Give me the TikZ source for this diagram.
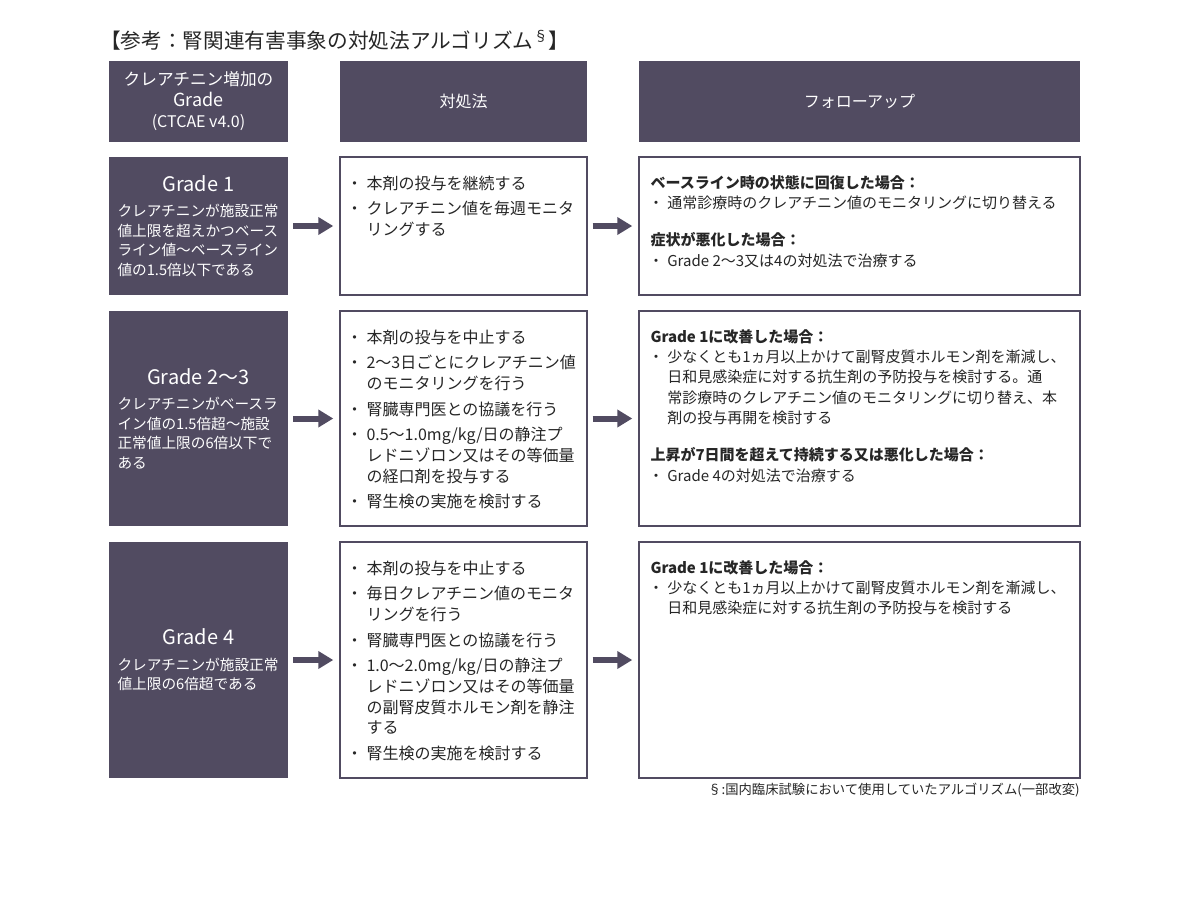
\documentclass[tikz,border=0pt]{standalone}
\usepackage{fontspec}
\setmainfont{Noto Sans CJK JP}
\usetikzlibrary{arrows.meta}

\definecolor{plum}{HTML}{514B61}
\newlength\pu
\setlength\pu{0.75pt}
\newcommand\bul{\makebox[1.125em][l]{\hspace{-0.125em}・}}
\newcommand\ind{\hspace*{1.125em}}

\tikzset{
  gradebox/.style={fill=plum, minimum width=179\pu, inner sep=0},
  stepbox/.style={draw=plum, line width=1.1pt, fill=white, inner sep=0},
  flow/.style={draw=plum, line width=4.5pt, -{Triangle[length=11.25pt,width=12.75pt]}, shorten <=3.75pt, shorten >=4.5pt},
  gradetext/.style={text width=162\pu, align=left, inner sep=0, text=white, font=\fontsize{11}{14.6}\selectfont},
  boxtext/.style={anchor=north west, inner sep=0, align=left, text=black!85}
}

\begin{document}
\begin{tikzpicture}[x=1\pu, y=-1\pu]
\fill[white] (0,0) rectangle (1200,922);
\useasboundingbox (0,0) rectangle (1200,922);

% title
\node[anchor=west, inner sep=0, font=\fontsize{15.5}{18}\selectfont, text=black!85] (title) at (100,40)
  {【参考：腎関連有害事象の対処法アルゴリズム\textsuperscript{§}】};

% header row
\node[gradebox, minimum height=81\pu, text=white, align=center, font=\fontsize{12.5}{15.75}\selectfont] (h1) at (198.5,101.5)
  {クレアチニン増加の\\{\fontsize{13.5}{15.75}\selectfont Grade}\\{\fontsize{12}{15.75}\selectfont(CTCAE v4.0)}};
\node[gradebox, minimum width=247\pu, minimum height=81\pu, text=white, font=\fontsize{12}{15}\selectfont] (h2) at (463.5,101.5) {対処法};
\node[gradebox, minimum width=441\pu, minimum height=81\pu, text=white, font=\fontsize{12}{15}\selectfont] (h3) at (859.5,101.5) {フォローアップ};

% rows
\foreach \r/\t/\b in {1/157/295, 2/311/526, 3/542/778}
{
  \pgfmathsetmacro{\rh}{(\b-\t)*0.75}
  \pgfmathsetmacro{\rc}{(\t+\b)/2}
  \node[gradebox, minimum height=\rh pt] (g\r) at (198.5,\rc) {};
  \node[stepbox, minimum width=247\pu, minimum height=\rh pt] (m\r) at (463.5,\rc) {};
  \node[stepbox, minimum width=441\pu, minimum height=\rh pt] (f\r) at (859.5,\rc) {};
  \draw[flow] (g\r) -- (m\r);
  \draw[flow] (m\r) -- (f\r);
}

% grade texts
\node[gradetext] (gt1) at (g1) {\makebox[\linewidth][c]{\fontsize{15}{18}\selectfont Grade 1}\\[6\pu]
  クレアチニンが施設正常\\値上限を超えかつベース\\ライン値〜ベースライン\\値の1.5倍以下である};
\node[gradetext] (gt2) at (g2) {\makebox[\linewidth][c]{\fontsize{15}{18}\selectfont Grade 2〜3}\\[6\pu]
  クレアチニンがベースラ\\イン値の1.5倍超〜施設\\正常値上限の6倍以下で\\ある};
\node[gradetext] (gt3) at (g3) {\makebox[\linewidth][c]{\fontsize{15}{18}\selectfont Grade 4}\\[6\pu]
  クレアチニンが施設正常\\値上限の6倍超である};

% actions
\node[boxtext, font=\fontsize{12}{15.5}\selectfont] (mt1) at ([shift={(9,19)}]m1.north west)
  {\bul 本剤の投与を継続する\\[5\pu]
   \bul クレアチニン値を毎週モニタ\\\ind リングする};
\node[boxtext, font=\fontsize{12}{15.5}\selectfont] (mt2) at ([shift={(9,19)}]m2.north west)
  {\bul 本剤の投与を中止する\\[5\pu]
   \bul 2〜3日ごとにクレアチニン値\\\ind のモニタリングを行う\\[5\pu]
   \bul 腎臓専門医との協議を行う\\[5\pu]
   \bul 0.5〜1.0mg/kg/日の静注プ\\\ind レドニゾロン又はその等価量\\\ind の経口剤を投与する\\[5\pu]
   \bul 腎生検の実施を検討する};
\node[boxtext, font=\fontsize{12}{15.5}\selectfont] (mt3) at ([shift={(9,19)}]m3.north west)
  {\bul 本剤の投与を中止する\\[5\pu]
   \bul 毎日クレアチニン値のモニタ\\\ind リングを行う\\[5\pu]
   \bul 腎臓専門医との協議を行う\\[5\pu]
   \bul 1.0〜2.0mg/kg/日の静注プ\\\ind レドニゾロン又はその等価量\\\ind の副腎皮質ホルモン剤を静注\\\ind する\\[5\pu]
   \bul 腎生検の実施を検討する};

% follow-up
\node[boxtext, font=\fontsize{11.25}{15.2}\selectfont] (ft1) at ([shift={(12,19)}]f1.north west)
  {\textbf{ベースライン時の状態に回復した場合：}\\
   \bul 通常診療時のクレアチニン値のモニタリングに切り替える\\[17\pu]
   \textbf{症状が悪化した場合：}\\
   \bul Grade 2〜3又は4の対処法で治療する};
\node[boxtext, font=\fontsize{11.25}{15.2}\selectfont] (ft2) at ([shift={(12,19)}]f2.north west)
  {\textbf{Grade 1に改善した場合：}\\
   \bul 少なくとも1ヵ月以上かけて副腎皮質ホルモン剤を漸減し、\\
   \ind 日和見感染症に対する抗生剤の予防投与を検討する。通\\
   \ind 常診療時のクレアチニン値のモニタリングに切り替え、本\\
   \ind 剤の投与再開を検討する\\[17\pu]
   \textbf{上昇が7日間を超えて持続する又は悪化した場合：}\\
   \bul Grade 4の対処法で治療する};
\node[boxtext, font=\fontsize{11.25}{15.2}\selectfont] (ft3) at ([shift={(12,19)}]f3.north west)
  {\textbf{Grade 1に改善した場合：}\\
   \bul 少なくとも1ヵ月以上かけて副腎皮質ホルモン剤を漸減し、\\
   \ind 日和見感染症に対する抗生剤の予防投与を検討する};

% footnote
\node[anchor=east, inner sep=0, font=\fontsize{10}{12}\selectfont, text=black!85] (note) at (1080,790)
  {§:国内臨床試験において使用していたアルゴリズム(一部改変)};
\end{tikzpicture}
\end{document}
